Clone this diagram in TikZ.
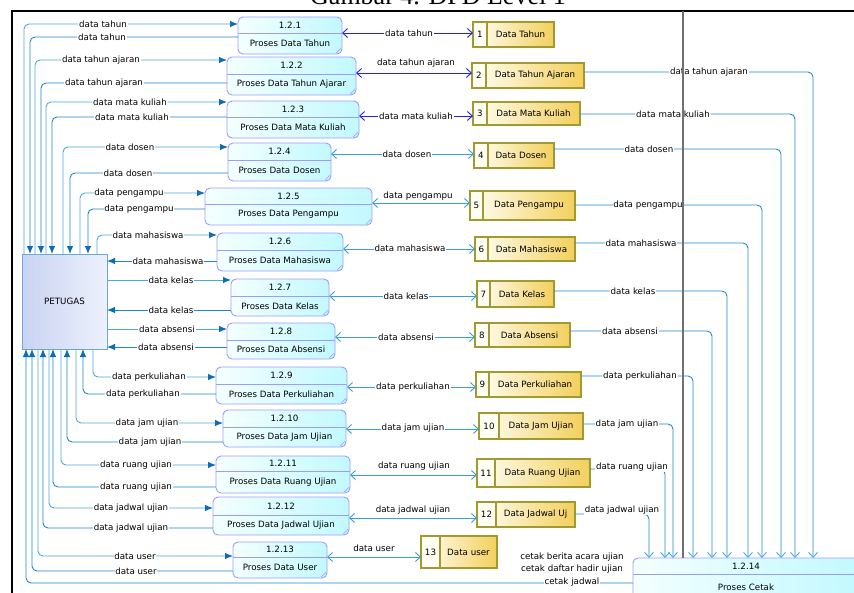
\documentclass[tikz,border=0pt]{standalone}
\usepackage{fontspec}
\newfontfamily\dvs{DejaVu Sans}
\newfontfamily\tms{Liberation Serif}
\usetikzlibrary{arrows.meta}
\definecolor{procB}{HTML}{9C9CFF}
\definecolor{procL}{HTML}{F4FFFF}
\definecolor{procR}{HTML}{C2F9FF}
\definecolor{storeB}{HTML}{A09A30}
\definecolor{storeL}{HTML}{FFFFF6}
\definecolor{storeR}{HTML}{F3CF5C}
\definecolor{storeN}{HTML}{FFFFF4}
\definecolor{petB}{HTML}{6AA8DA}
\definecolor{petL}{HTML}{C9D3F2}
\definecolor{petR}{HTML}{EEF1FC}
\definecolor{lnIn}{HTML}{4AAADE}
\definecolor{lnOut}{HTML}{1D88CC}
\definecolor{tipC}{HTML}{0B6EB6}
\definecolor{midBlue}{HTML}{2222EE}
\definecolor{midCyan}{HTML}{3A9EDB}
\definecolor{rtLine}{HTML}{1E8BD0}
\definecolor{grayLn}{HTML}{707070}

\tikzset{
  txt/.style={font=\dvs\fontsize{8.7}{10}\selectfont, inner sep=0pt},
  lbl/.style={font=\dvs\fontsize{8.7}{10}\selectfont, fill=white, inner sep=0.8pt},
  lblnf/.style={font=\dvs\fontsize{8.7}{10}\selectfont, inner sep=0.8pt},
  procnode/.style={draw=procB, line width=0.9pt, rounded corners=5pt, left color=procL, right color=procR, inner sep=0pt, outer sep=0pt},
  storenode/.style={left color=storeL, right color=storeR, inner sep=0pt, outer sep=0pt},
  storeline/.style={draw=storeB, line width=1.1pt},
  petnode/.style={draw=petB, line width=1pt, left color=petL, right color=petR, inner sep=0pt, outer sep=0pt, font=\dvs\fontsize{8.7}{10}\selectfont},
  conIn/.style={draw=lnIn, line width=0.9pt, rounded corners=5pt, -{Latex[length=8pt,width=6.5pt,color=tipC]}},
  conOut/.style={draw=lnOut, line width=0.9pt, rounded corners=5pt, -{Latex[length=8pt,width=6.5pt,color=tipC]}},
  biB/.style={draw=midBlue, line width=0.9pt, {Straight Barb[length=5pt,width=9pt]}-{Straight Barb[length=5pt,width=9pt]}},
  biC/.style={draw=midCyan, line width=0.9pt, {Straight Barb[length=5pt,width=9pt]}-{Straight Barb[length=5pt,width=9pt]}},
  toCetak/.style={draw=rtLine, line width=0.9pt, rounded corners=5pt, -{Straight Barb[length=5pt,width=9pt,color=lnIn]}},
}

% process: name x1 y1 x2 y2 ydiv number label
\newcommand\mkproc[8]{%
  \node[procnode, minimum width={(#4)-(#2)}, minimum height={(#5)-(#3)}] (#1) at ({((#2)+(#4))/2},{((#3)+(#5))/2}) {};
  \draw[procB, line width=0.8pt] (#2,#6) -- (#4,#6);
  \draw[procB, line width=0.6pt] ({(#4)-6},{(#5)-0.8}) -- ({(#4)-0.8},{(#5)-6});
  \node[txt] at ({((#2)+(#4))/2},{((#3)+(#6))/2}) {#7};
  \node[txt] at ({((#2)+(#4))/2},{((#6)+(#5))/2}) {#8};
}
% store: name x1 y1 x2 y2 xdiv number label
\newcommand\mkstore[8]{%
  \node[storenode, minimum width={(#4)-(#2)}, minimum height={(#5)-(#3)}] (#1) at ({((#2)+(#4))/2},{((#3)+(#5))/2}) {};
  \fill[storeN] (#2,#3) rectangle (#6,#5);
  \draw[storeline] (#1.north west) rectangle (#1.south east);
  \draw[storeline] (#6,#3) -- (#6,#5);
  \node[txt] at ({((#2)+(#6))/2},{((#3)+(#5))/2}) {#7};
  \node[txt] at ({((#6)+(#4))/2},{((#3)+(#5))/2}) {#8};
}

\begin{document}
\begin{tikzpicture}[x=1pt,y=-1pt]
\useasboundingbox (0,0) rectangle (854,592);
\clip (0,0) rectangle (854,592);
\fill[white] (0,0) rectangle (854,592);

\node[font=\tms\fontsize{26}{26}\selectfont, anchor=base, inner sep=0pt] (title) at (438,4) {Gambar 4. DFD Level 1};
\draw[line width=1.8pt] (12,11) rectangle (900,650);

% external entity
\node[petnode, minimum width=85, minimum height=95] (pet) at (64.5,301.5) {PETUGAS};

% processes
\mkproc{p1}{238}{17}{342}{54}{33}{1.2.1}{Proses Data Tahun}
\mkproc{p2}{227}{57}{356}{95}{74}{1.2.2}{Proses Data Tahun Ajarar}
\mkproc{p3}{227}{101}{359}{138}{117}{1.2.3}{Proses Data Mata Kuliah}
\mkproc{p4}{228}{143}{331}{181}{160}{1.2.4}{Proses Data Dosen}
\mkproc{p5}{205}{188}{372}{225}{204}{1.2.5}{Proses Data Pengampu}
\mkproc{p6}{217}{233}{343}{271}{250}{1.2.6}{Proses Data Mahasiswa}
\mkproc{p7}{231}{279}{329}{316}{296}{1.2.7}{Proses Data Kelas}
\mkproc{p8}{227}{323}{335}{359}{340}{1.2.8}{Proses Data Absensi}
\mkproc{p9}{216}{367}{347}{404}{384}{1.2.9}{Proses Data Perkuliahan}
\mkproc{p10}{223}{410}{346}{447}{427}{1.2.10}{Proses Data Jam Ujian}
\mkproc{p11}{216}{456}{350}{493}{471}{1.2.11}{Proses Data Ruang Ujian}
\mkproc{p12}{213}{497}{349}{535}{515}{1.2.12}{Proses Data Jadwal Ujian}
\mkproc{p13}{233}{542}{327}{578}{557}{1.2.13}{Proses Data User}
\mkproc{p14}{633}{558}{859}{600}{574}{1.2.14}{Proses Cetak}

% data stores
\mkstore{s1}{473}{22}{554}{47}{487}{1}{Data Tahun}
\mkstore{s2}{472}{63}{584}{88}{486}{2}{Data Tahun Ajaran}
\mkstore{s3}{473}{102}{580}{125}{487}{3}{Data Mata Kuliah}
\mkstore{s4}{474}{143}{554}{168}{488}{4}{Data Dosen}
\mkstore{s5}{470}{191}{575}{220}{483}{5}{Data Pengampu}
\mkstore{s6}{475}{237}{575}{261}{488}{6}{Data Mahasiswa}
\mkstore{s7}{477}{281}{554}{307}{490}{7}{Data Kelas}
\mkstore{s8}{475}{323}{570}{347}{489}{8}{Data Absensi}
\mkstore{s9}{476}{372}{581}{397}{489}{9}{Data Perkuliahan}
\mkstore{s10}{479}{413}{583}{439}{499}{10}{Data Jam Ujian}
\mkstore{s11}{477}{459}{590}{487}{495}{11}{Data Ruang Ujian}
\mkstore{s12}{477}{502}{575}{527}{496}{12}{Data Jadwal Uj}
\mkstore{s13}{421}{536}{497}{568}{440}{13}{Data user}

% ---- Petugas <-> processes (top)
\draw[conIn]  (pet.north -| 24,0) |- (p1.west |- 0,24);
\draw[conOut] (p1.west |- 0,37) -| (pet.north -| 30,0);
\draw[conIn]  (pet.north -| 35,0) |- (p2.west |- 0,60);
\draw[conOut] (p2.west |- 0,83) -| (pet.north -| 41,0);
\draw[conIn]  (pet.north -| 46,0) |- (p3.west |- 0,102);
\draw[conOut] (p3.west |- 0,117) -| (pet.north -| 52,0);
\draw[conIn]  (pet.north -| 63,0) |- (p4.west |- 0,147);
\draw[conOut] (p4.west |- 0,173) -| (pet.north -| 70,0);
\draw[conIn]  (pet.north -| 80,0) |- (p5.west |- 0,193);
\draw[conOut] (p5.west |- 0,209) -| (pet.north -| 88,0);
\draw[conIn]  (pet.north -| 97,0) |- (p6.west |- 0,235);
% ---- side
\draw[conOut] (p6.west |- 0,261) -- (pet.east |- 0,261);
\draw[conIn]  (pet.east |- 0,280) -- (p7.west |- 0,280);
\draw[conOut] (p7.west |- 0,310) -- (pet.east |- 0,310);
\draw[conIn]  (pet.east |- 0,329) -- (p8.west |- 0,329);
\draw[conOut] (p8.west |- 0,347) -- (pet.east |- 0,347);
% ---- bottom
\draw[conIn]  (pet.south -| 93,0) |- (p9.west |- 0,377);
\draw[conOut] (p9.west |- 0,394) -| (pet.south -| 83,0);
\draw[conIn]  (pet.south -| 76,0) |- (p10.west |- 0,423);
\draw[conOut] (p10.west |- 0,442) -| (pet.south -| 67,0);
\draw[conIn]  (pet.south -| 61,0) |- (p11.west |- 0,465);
\draw[conOut] (p11.west |- 0,487) -| (pet.south -| 53,0);
\draw[conIn]  (pet.south -| 49,0) |- (p12.west |- 0,508);
\draw[conOut] (p12.west |- 0,528) -| (pet.south -| 43,0);
\draw[conIn]  (pet.south -| 38,0) |- (p13.west |- 0,556);
\draw[conOut] (p13.west |- 0,571) -| (pet.south -| 32,0);
\draw[conOut] (p14.west |- 0,583) -| (pet.south -| 26,0);

\node[lbl] at (103,24) {data tahun};
\node[lbl] at (102,37) {data tahun};
\node[lbl] at (101,60) {data tahun ajaran};
\node[lbl] at (104,83) {data tahun ajaran};
\node[lbl] at (130,102) {data mata kuliah};
\node[lbl] at (132,117) {data mata kuliah};
\node[lbl] at (130,147) {data dosen};
\node[lbl] at (128,173) {data dosen};
\node[lbl] at (129,193) {data pengampu};
\node[lbl] at (139,209) {data pengampu};
\node[lbl] at (148,235) {data mahasiswa};
\node[lbl] at (168,261) {data mahasiswa};
\node[lbl] at (171,280) {data kelas};
\node[lbl] at (171,310) {data kelas};
\node[lbl] at (167,329) {data absensi};
\node[lbl] at (166,347) {data absensi};
\node[lbl] at (149,377) {data perkuliahan};
\node[lbl] at (143,394) {data perkuliahan};
\node[lbl] at (147,423) {data jam ujian};
\node[lbl] at (150,442) {data jam ujian};
\node[lbl] at (136,465) {data ruang ujian};
\node[lbl] at (136,487) {data ruang ujian};
\node[lbl] at (131,508) {data jadwal ujian};
\node[lbl] at (131,528) {data jadwal ujian};
\node[lbl] at (135,556) {data user};
\node[lbl] at (136,571) {data user};

% ---- processes <-> stores
\draw[biB] (p1.east |- 0,33) -- (s1.west |- 0,33);
\draw[biB] (p2.east |- 0,73) -- (s2.west |- 0,73);
\draw[biB] (p3.east |- 0,116) -- (s3.west |- 0,116);
\draw[biC] (p4.east |- 0,154) -- (s4.west |- 0,154);
\draw[biC] (p5.east |- 0,203) -- (s5.west |- 0,203);
\draw[biC] (p6.east |- 0,249) -- (s6.west |- 0,249);
\draw[biC] (p7.east |- 0,296) -- (s7.west |- 0,296);
\draw[biC] (p8.east |- 0,337) -- (s8.west |- 0,337);
\draw[biC] (p9.east |- 0,387) -- (s9.west |- 0,387);
\draw[biC] (p10.east |- 0,429) -- (s10.west |- 0,429);
\draw[biC] (p11.east |- 0,475) -- (s11.west |- 0,475);
\draw[biC] (p12.east |- 0,518) -- (s12.west |- 0,518);
\draw[biC] (p13.east |- 0,557) -- (s13.west |- 0,557);

\node[lbl] at (409,33) {data tahun};
\node[lblnf] at (416,63) {data tahun ajaran};
\node[lbl] at (416,116) {data mata kuliah};
\node[lbl] at (407,154) {data dosen};
\node[lblnf] at (418,196) {data pengampu};
\node[lbl] at (410,248) {data mahasiswa};
\node[lbl] at (406,296) {data kelas};
\node[lbl] at (406,337) {data absensi};
\node[lbl] at (413,387) {data perkuliahan};
\node[lbl] at (413,428) {data jam ujian};
\node[lblnf] at (414,466) {data ruang ujian};
\node[lblnf] at (413,510) {data jadwal ujian};
\node[lblnf] at (374,548) {data user};

% ---- stores -> Proses Cetak
\draw[toCetak] (s2.east |- 0,72) -| (p14.north -| 813,0);
\draw[toCetak] (s3.east |- 0,114) -| (p14.north -| 795,0);
\draw[toCetak] (s4.east |- 0,149) -| (p14.north -| 781,0);
\draw[toCetak] (s5.east |- 0,205) -| (p14.north -| 762,0);
\draw[toCetak] (s6.east |- 0,243) -| (p14.north -| 748,0);
\draw[toCetak] (s7.east |- 0,291) -| (p14.north -| 727,0);
\draw[toCetak] (s8.east |- 0,331) -| (p14.north -| 712,0);
\draw[toCetak] (s9.east |- 0,376) -| (p14.north -| 693,0);
\draw[toCetak] (s10.east |- 0,424) -| (p14.north -| 673,0);
\draw[toCetak] (s11.east |- 0,469) -| (p14.north -| 665,0);
\draw[toCetak] (s12.east |- 0,514) -| (p14.north -| 649,0);

\node[lbl] at (709,72) {data tahun ajaran};
\node[lbl] at (673,114) {data mata kuliah};
\node[lbl] at (649,149) {data dosen};
\node[lbl] at (648,205) {data pengampu};
\node[lbl] at (641,243) {data mahasiswa};
\node[lbl] at (633,291) {data kelas};
\node[lbl] at (630,331) {data absensi};
\node[lbl] at (640,376) {data perkuliahan};
\node[lbl] at (627,424) {data jam ujian};
\node[lbl] at (632,467) {data ruang ujian};
\node[lbl] at (622,510) {data jadwal ujian};

\node[lblnf] at (572,557) {cetak berita acara ujian};
\node[lblnf] at (572,569) {cetak daftar hadir ujian};
\node[lbl] at (572,582) {cetak jadwal};

% gray vertical line
\draw[grayLn, line width=1.6pt] (683,11) -- (p14.north -| 683,0);
\end{tikzpicture}
\end{document}
